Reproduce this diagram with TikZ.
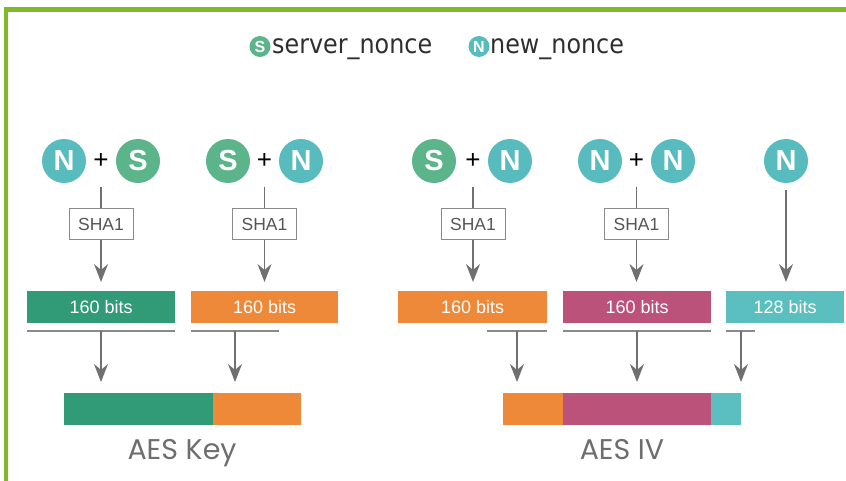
\documentclass[tikz,border=0pt]{standalone}
\usepackage{fontspec}
\setmainfont{Liberation Sans}
\newfontfamily\legendfont{DejaVu Sans Condensed}
\newfontfamily\titlefont{Poppins}
\usetikzlibrary{arrows.meta}

\definecolor{framegreen}{HTML}{7DB928}
\definecolor{ntea}{HTML}{58BBBE}
\definecolor{sgreen}{HTML}{5CB48A}
\definecolor{keygreen}{HTML}{319B77}
\definecolor{korange}{HTML}{EE8939}
\definecolor{kmagenta}{HTML}{BB5279}
\definecolor{kteal}{HTML}{5BBFBF}
\definecolor{arrowgray}{HTML}{707070}
\definecolor{boxgray}{HTML}{8A8A8A}
\definecolor{txtgray}{HTML}{555555}
\definecolor{captgray}{HTML}{6E6E6E}
\definecolor{legendtxt}{HTML}{2E2E2E}

\begin{document}
\begin{tikzpicture}[x=1pt,y=-1pt,
  nonce/.style={circle, minimum size=44pt, inner sep=0pt, text=white,
    font=\fontsize{29}{29}\selectfont\bfseries},
  ncirc/.style={nonce, fill=ntea},
  scirc/.style={nonce, fill=sgreen},
  mini/.style={circle, minimum size=21pt, inner sep=0pt, text=white,
    font=\fontsize{16}{16}\selectfont\bfseries},
  legendtext/.style={anchor=base west, inner sep=0pt, text=legendtxt,
    font=\legendfont\fontsize{26.5}{26.5}\selectfont},
  plus/.style={inner sep=0pt, font=\fontsize{26}{26}\selectfont},
  hashbox/.style={draw=boxgray, line width=1pt, minimum width=64pt,
    minimum height=31pt, inner sep=0pt, text=txtgray,
    font=\fontsize{17.5}{17.5}\selectfont},
  bitbox/.style={anchor=north west, minimum height=32pt, inner sep=0pt,
    text=white, font=\fontsize{18}{18}\selectfont},
  seg/.style={anchor=north west, minimum height=32pt, inner sep=0pt},
  link/.style={draw=arrowgray, line width=1.5pt},
  flow/.style={link, -{Stealth[length=18pt,width=14pt,inset=6pt]}},
  bracket/.style={draw=boxgray, line width=1.5pt},
  caption/.style={anchor=base, inner sep=0pt, text=captgray,
    font=\titlefont\fontsize{28.5}{28.5}\selectfont}
]
\useasboundingbox (0,0) rectangle (846,481);

% frame
\draw[framegreen, line width=4.5pt] (6,481) -- (6,9.5) -- (846,9.5);

% legend
\node[mini, fill=sgreen] (ls) at (260,46.5) {S};
\node[legendtext] (lst) at (272,54) {server\_nonce};
\node[mini, fill=ntea] (ln) at (479,46.5) {N};
\node[legendtext] (lnt) at (490,54) {new\_nonce};

% nonce combinations
\node[ncirc] (a1) at (64,161) {N};
\node[plus] (p1) at (101,161) {+};
\node[scirc] (a2) at (138,161) {S};

\node[scirc] (b1) at (228,161) {S};
\node[plus] (p2) at (264.5,161) {+};
\node[ncirc] (b2) at (301,161) {N};

\node[scirc] (c1) at (434,161) {S};
\node[plus] (p3) at (473,161) {+};
\node[ncirc] (c2) at (510,161) {N};

\node[ncirc] (d1) at (600,161) {N};
\node[plus] (p4) at (636.5,161) {+};
\node[ncirc] (d2) at (673,161) {N};

\node[ncirc] (e1) at (786,161) {N};

% hash boxes
\node[hashbox] (h1) at (101,224.5) {SHA1};
\node[hashbox] (h2) at (264.5,224.5) {SHA1};
\node[hashbox] (h3) at (473,224.5) {SHA1};
\node[hashbox] (h4) at (636.5,224.5) {SHA1};

% hash outputs
\node[bitbox, fill=keygreen, minimum width=148pt] (r1) at (27,291) {160 bits};
\node[bitbox, fill=korange, minimum width=147pt] (r2) at (191,291) {160 bits};
\node[bitbox, fill=korange, minimum width=149pt] (r3) at (398,291) {160 bits};
\node[bitbox, fill=kmagenta, minimum width=148pt] (r4) at (563,291) {160 bits};
\node[bitbox, fill=kteal, minimum width=118pt] (r5) at (726,291) {128 bits};

% inputs to hashes
\foreach \p/\h in {p1/h1, p2/h2, p3/h3, p4/h4}
  \draw[link, shorten <=18pt] (\p) -- (\h);
\foreach \h/\r in {h1/r1, h2/r2, h3/r3, h4/r4}
  \draw[flow, shorten >=9pt] (\h) -- (\h |- \r.north);
\draw[flow, shorten <=7pt, shorten >=9pt] (e1) -- (e1 |- r5.north);

% selected bit ranges
\coordinate (s1a) at (27,331);  \coordinate (s1b) at (175,331);
\coordinate (s2a) at (191,331); \coordinate (s2b) at (279,331);
\coordinate (s3a) at (487,331); \coordinate (s3b) at (547,331);
\coordinate (s4a) at (563,331); \coordinate (s4b) at (711,331);
\coordinate (s5a) at (726,331); \coordinate (s5b) at (755,331);
\foreach \s in {1,...,5}
  \draw[bracket] (s\s a) -- (s\s b);

\coordinate (m1) at (101,331);
\coordinate (m2) at (235,331);
\coordinate (m3) at (517,331);
\coordinate (m4) at (637,331);
\coordinate (m5) at (741,331);

% AES key
\node[seg, fill=keygreen, minimum width=149pt] (kg) at (64,393) {};
\node[seg, fill=korange, minimum width=88pt] (ko) at (213,393) {};
\node[caption] (kcap) at (182,459) {AES Key};

% AES IV
\node[seg, fill=korange, minimum width=60pt] (vo) at (503,393) {};
\node[seg, fill=kmagenta, minimum width=148pt] (vm) at (563,393) {};
\node[seg, fill=kteal, minimum width=30pt] (vt) at (711,393) {};
\node[caption] (vcap) at (622,459) {AES IV};

\draw[flow, shorten >=11pt] (m1) -- (m1 |- kg.north);
\draw[flow, shorten >=11pt] (m2) -- (m2 |- ko.north);
\draw[flow, shorten >=11pt] (m3) -- (m3 |- vo.north);
\draw[flow, shorten >=11pt] (m4) -- (m4 |- vm.north);
\draw[flow, shorten >=11pt] (m5) -- (m5 |- vt.north);
\end{tikzpicture}
\end{document}
